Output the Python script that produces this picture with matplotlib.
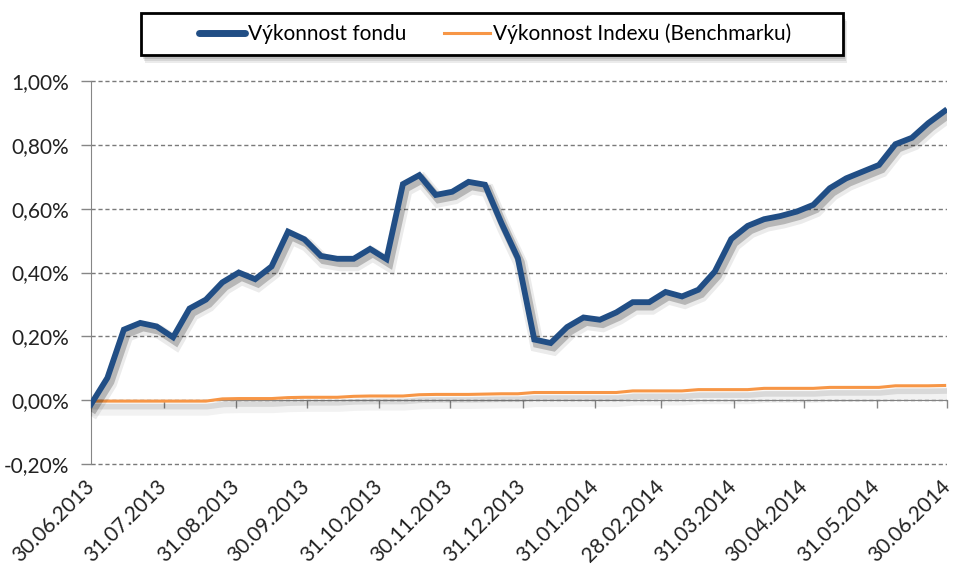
import numpy as np
import pandas as pd
import matplotlib
matplotlib.use("Agg")
import matplotlib.pyplot as plt
import matplotlib.patheffects as pe
from matplotlib.patches import Rectangle
from matplotlib.ticker import FuncFormatter

plt.rcParams['font.family'] = ['Lato', 'DejaVu Sans']

# weekly observations, 30.06.2013 - 30.06.2014 (in %)
dates = pd.date_range("2013-06-30", periods=53, freq="7D")
fund = [-0.013, 0.070, 0.221, 0.242, 0.231, 0.197, 0.287, 0.315, 0.369, 0.400,
        0.379, 0.419, 0.528, 0.504, 0.452, 0.443, 0.443, 0.474, 0.442, 0.677,
        0.705, 0.643, 0.653, 0.684, 0.675, 0.555, 0.445, 0.190, 0.179, 0.229,
        0.259, 0.252, 0.275, 0.307, 0.307, 0.339, 0.325, 0.346, 0.403, 0.505,
        0.546, 0.567, 0.577, 0.591, 0.612, 0.664, 0.695, 0.716, 0.737, 0.802,
        0.822, 0.868, 0.906]
bench = [-0.003, -0.003, -0.003, -0.003, -0.003, -0.003, -0.003, -0.003, 0.004, 0.005,
         0.005, 0.005, 0.008, 0.009, 0.009, 0.009, 0.012, 0.013, 0.013, 0.013,
         0.017, 0.018, 0.018, 0.018, 0.019, 0.020, 0.020, 0.024, 0.024, 0.024,
         0.024, 0.024, 0.024, 0.029, 0.029, 0.029, 0.029, 0.033, 0.033, 0.033,
         0.033, 0.037, 0.037, 0.037, 0.037, 0.040, 0.040, 0.040, 0.040, 0.045,
         0.045, 0.045, 0.046]

y_ticks = [-0.2, 0.0, 0.2, 0.4, 0.6, 0.8, 1.0]
tick_labels = ["30.06.2013", "31.07.2013", "31.08.2013", "30.09.2013", "31.10.2013",
               "30.11.2013", "31.12.2013", "31.01.2014", "28.02.2014", "31.03.2014",
               "30.04.2014", "31.05.2014", "30.06.2014"]
tick_dates = pd.to_datetime(tick_labels, format="%d.%m.%Y")

fund_label = "Výkonnost fondu"
bench_label = "Výkonnost Indexu (Benchmarku)"

fig = plt.figure(figsize=(9.55, 5.72), dpi=100)
ax = fig.add_axes([91/955, 1 - 466/572, (947 - 91)/955, (466 - 79)/572])

fund_shadow = [pe.SimpleLineShadow(offset=(2, -4), shadow_color='#000000', alpha=0.08, linewidth=10),
               pe.SimpleLineShadow(offset=(2, -3), shadow_color='#000000', alpha=0.22, linewidth=6),
               pe.Normal()]
bench_shadow = [pe.SimpleLineShadow(offset=(1, -6), shadow_color='#000000', alpha=0.05, linewidth=9),
                pe.SimpleLineShadow(offset=(1, -4), shadow_color='#000000', alpha=0.10, linewidth=4),
                pe.Normal()]

ax.plot(dates, bench, color='#f79646', lw=2.2, label=bench_label,
        path_effects=bench_shadow, zorder=3)
ax.plot(dates, fund, color='#214e85', lw=4.2, label=fund_label,
        solid_joinstyle='miter', path_effects=fund_shadow, zorder=4)

# a little headroom so the outer grid lines are not clipped
ax.set_ylim(-0.2063, 1.0063)
ax.set_xlim(tick_dates[0], tick_dates[-1])
ax.set_yticks(y_ticks)
ax.yaxis.set_major_formatter(FuncFormatter(lambda v, p: f"{v:.2f}%".replace(".", ",")))
ax.grid(axis='y', color='#7a7a7a', ls=(0, (3, 2)), lw=1.0)
ax.set_axisbelow(True)

for s in ['top', 'right']:
    ax.spines[s].set_visible(False)
ax.spines['left'].set_color('#868686')
ax.spines['left'].set_bounds(-0.2, 1.0)
ax.spines['bottom'].set_color('#868686')
ax.spines['bottom'].set_position(('data', 0))
ax.spines['bottom'].set_zorder(2)

ax.set_xticks(tick_dates)
ax.set_xticklabels(tick_labels)
ax.tick_params(axis='x', length=6, width=1, color='#868686', pad=54, labelsize=15,
               labelcolor='#222222')
ax.tick_params(axis='y', length=7, width=1, color='#868686', pad=9, labelsize=15,
               labelcolor='#222222')
plt.setp(ax.get_xticklabels(), rotation=45, ha='right', va='center',
         rotation_mode='anchor')

# legend box with soft shadow, as in the source
box_x0, box_y0 = 141/955, 1 - 55/572
box_w, box_h = (843 - 141)/955, (55 - 13)/572
for k, a in enumerate([0.10, 0.12, 0.16]):
    fig.patches.append(Rectangle((box_x0 + (4 - k)/955, box_y0 - (8 - 2*k)/572),
                                 box_w, box_h, transform=fig.transFigure,
                                 facecolor='#404040', edgecolor='none', alpha=a,
                                 zorder=1))
fig.patches.append(Rectangle((box_x0, box_y0), box_w, box_h, transform=fig.transFigure,
                             facecolor='white', edgecolor='black', lw=2, zorder=2))

handles, labels = ax.get_legend_handles_labels()
leg = fig.legend(handles[::-1], labels[::-1], loc='center', ncol=2,
                 bbox_to_anchor=(495/955, 1 - 34/572), fontsize=15,
                 frameon=False, handlelength=2.2, handletextpad=0.15,
                 columnspacing=1.8)
leg.set_zorder(5)
for h in leg.legend_handles:
    h.set_path_effects([pe.Normal()])
leg.legend_handles[0].set_linewidth(5)
leg.legend_handles[0].set_solid_capstyle('round')

fig.savefig("out.png", dpi=100)
